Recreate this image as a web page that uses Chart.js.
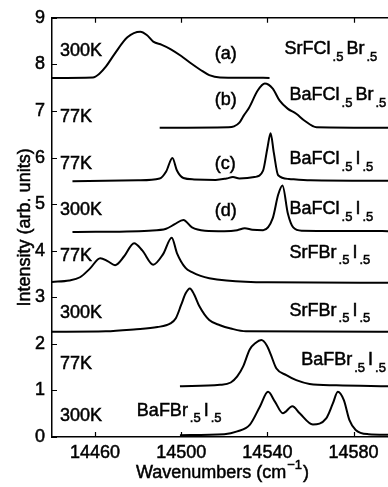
<!DOCTYPE html>
<html>
<head>
<meta charset="utf-8">
<script src="https://cdn.jsdelivr.net/npm/chart.js@4.4.1/dist/chart.umd.min.js"></script>
<style>
  html, body { margin: 0; padding: 0; background: #fff; }
  #wrap { width: 388px; height: 487px; position: relative; }
</style>
</head>
<body>
<div id="wrap"><canvas id="chart"></canvas></div>
<script>
// tick labels
const xTicks = [14460, 14500, 14540, 14580];
const yTicks = [0, 1, 2, 3, 4, 5, 6, 7, 8, 9];

// (a) SrFCl.5Br.5, 300K
const aWave = [14440, 14459, 14462, 14465, 14469, 14475, 14481, 14484, 14487, 14491, 14495, 14500, 14504, 14509, 14513, 14518, 14541];
const aInt  = [7.71, 7.72, 7.80, 7.95, 8.22, 8.58, 8.70, 8.63, 8.49, 8.42, 8.33, 8.18, 8.04, 7.88, 7.77, 7.72, 7.71];

// (b) BaFCl.5Br.5, 77K
const bWave = [14490, 14522, 14524.5, 14527, 14529, 14531.5, 14535.5, 14538.8, 14542.5, 14545.7, 14549.4, 14553.4, 14557.3, 14562.8, 14596];
const bInt  = [6.64, 6.65, 6.67, 6.75, 6.90, 7.07, 7.44, 7.59, 7.48, 7.22, 7.05, 6.94, 6.79, 6.65, 6.64];

// (c) BaFCl.5I.5, 77K
const cWave = [14449.5, 14480, 14490, 14493, 14495.9, 14498, 14501, 14506, 14516, 14521, 14524, 14527, 14534, 14538, 14540, 14541.5, 14543, 14545, 14550, 14560, 14596];
const cInt  = [5.49, 5.51, 5.55, 5.70, 5.99, 5.72, 5.56, 5.53, 5.52, 5.55, 5.58, 5.55, 5.58, 5.72, 6.20, 6.52, 6.10, 5.62, 5.54, 5.51, 5.50];

// (d) BaFCl.5I.5, 300K
const dWave = [14449.5, 14485, 14493, 14497, 14501, 14505, 14511, 14520, 14526, 14529.5, 14533, 14538, 14542.5, 14545, 14547, 14549.5, 14552, 14556, 14596];
const dInt  = [4.40, 4.43, 4.47, 4.57, 4.66, 4.50, 4.43, 4.42, 4.44, 4.48, 4.45, 4.44, 4.70, 5.20, 5.40, 4.80, 4.50, 4.43, 4.42];

// SrFBr.5I.5, 77K
const eWave = [14440, 14448, 14453, 14457.7, 14462.4, 14466, 14469.3, 14473.5, 14478.1, 14482, 14487, 14491.5, 14495.6, 14498, 14502, 14505, 14509, 14513, 14521, 14540, 14596];
const eInt  = [3.33, 3.36, 3.43, 3.62, 3.84, 3.77, 3.69, 3.88, 4.16, 4.00, 3.70, 3.92, 4.28, 3.95, 3.63, 3.54, 3.46, 3.41, 3.36, 3.32, 3.31];

// SrFBr.5I.5, 300K
const fWave = [14440, 14465, 14478, 14489, 14495, 14497.5, 14500, 14502, 14504, 14506, 14508.5, 14513, 14518, 14523, 14530, 14596];
const fInt  = [2.26, 2.27, 2.31, 2.36, 2.44, 2.55, 2.84, 3.08, 3.19, 3.06, 2.80, 2.51, 2.40, 2.33, 2.27, 2.26];

// BaFBr.5I.5, 77K
const gWave = [14499.4, 14518, 14523, 14526, 14528.7, 14531.8, 14534.5, 14537.2, 14539.8, 14541.5, 14544.2, 14548.8, 14553.4, 14559.6, 14572, 14596];
const gInt  = [1.09, 1.12, 1.17, 1.30, 1.51, 1.88, 2.02, 2.08, 1.96, 1.78, 1.47, 1.33, 1.22, 1.14, 1.11, 1.09];

// BaFBr.5I.5, 300K
const hWave = [14499.4, 14520, 14526, 14531.8, 14536.5, 14540.3, 14543.5, 14547.2, 14551.6, 14555, 14561.1, 14567.3, 14570.4, 14572.7, 14575.5, 14578.1, 14581, 14587, 14596];
const hInt  = [0.04, 0.06, 0.12, 0.26, 0.65, 0.97, 0.76, 0.51, 0.66, 0.51, 0.27, 0.40, 0.72, 0.97, 0.79, 0.36, 0.15, 0.06, 0.05];

const seriesList = [
    [aWave, aInt], [bWave, bInt], [cWave, cInt], [dWave, dInt],
    [eWave, eInt], [fWave, fInt], [gWave, gInt], [hWave, hInt]
];

// labels: temperature at the left, letter, compound name ({} = subscript)
const tempLabels = ['300K', '77K', '77K', '300K', '77K', '300K', '77K', '300K'];
const tempLevels = [8.28, 6.86, 5.87, 4.88, 3.88, 2.66, 1.56, 0.45];
const letterLabels = ['(a)', '(b)', '(c)', '(d)'];
const letterLevels = [8.22, 7.23, 5.86, 4.86];
const compoundNames = ['SrFCl{.5}Br{.5}', 'BaFCl{.5}Br{.5}', 'BaFCl{.5}I{.5}', 'BaFCl{.5}I{.5}', 'SrFBr{.5}I{.5}', 'SrFBr{.5}I{.5}', 'BaFBr{.5}I{.5}', 'BaFBr{.5}I{.5}'];
const compoundAt = [[14548.0, 8.33], [14550.3, 7.34], [14550.3, 5.96], [14550.3, 4.89], [14550.3, 3.96], [14550.3, 2.71], [14555.7, 1.65], [14479.4, 0.56]];

const FONT = '"Liberation Sans", Arial, Helvetica, sans-serif';

// fill + thin stroke, the scan looks a bit heavier than plain Arial
function txt(ctx, s, x, y) {
    ctx.fillText(s, x, y);
    ctx.strokeText(s, x, y);
}

// draws text with {..} parts as subscripts
function drawCompound(ctx, str, x, y) {
    const parts = str.split(/(\{[^}]*\})/).filter(p => p.length);
    let cx = x;
    parts.forEach(p => {
        if (p[0] === '{') {
            ctx.font = '13px ' + FONT;
            cx += 2;
            txt(ctx, p.slice(1, -1), cx, y + 8);
            cx += ctx.measureText(p.slice(1, -1)).width + 3;
        } else {
            ctx.font = '18px ' + FONT;
            txt(ctx, p, cx, y);
            cx += ctx.measureText(p).width;
        }
    });
}

const framePlugin = {
    id: 'frame',
    afterDraw(chart) {
        const ctx = chart.ctx;
        const xs = chart.scales.x, ys = chart.scales.y;
        const a = chart.chartArea;
        ctx.save();
        ctx.strokeStyle = '#000';
        ctx.lineWidth = 1.5;
        // top frame line
        ctx.beginPath();
        ctx.moveTo(a.left, a.top);
        ctx.lineTo(a.right, a.top);
        ctx.stroke();
        // inward ticks
        ctx.lineWidth = 1.2;
        ctx.beginPath();
        xTicks.forEach(v => {
            const px = Math.round(xs.getPixelForValue(v)) + 0.5;
            ctx.moveTo(px, a.bottom); ctx.lineTo(px, a.bottom - 5);
            ctx.moveTo(px, a.top); ctx.lineTo(px, a.top + 5);
        });
        yTicks.forEach(v => {
            const py = Math.round(ys.getPixelForValue(v)) + 0.5;
            ctx.moveTo(a.left, py); ctx.lineTo(a.left + 5, py);
        });
        ctx.stroke();

        // text labels
        ctx.fillStyle = '#000';
        ctx.lineWidth = 0.5;
        ctx.textBaseline = 'middle';
        ctx.textAlign = 'left';
        ctx.font = '18px ' + FONT;
        tempLabels.forEach((t, i) => {
            txt(ctx, t, a.left + 8, ys.getPixelForValue(tempLevels[i]));
        });
        letterLabels.forEach((t, i) => {
            txt(ctx, t, xs.getPixelForValue(14515.6), ys.getPixelForValue(letterLevels[i]));
        });
        compoundNames.forEach((t, i) => {
            drawCompound(ctx, t, xs.getPixelForValue(compoundAt[i][0]), ys.getPixelForValue(compoundAt[i][1]));
        });

        // axis titles
        ctx.font = '18px ' + FONT;
        ctx.textAlign = 'left';
        const main = 'Wavenumbers (cm';
        const w1 = ctx.measureText(main).width;
        ctx.font = '13px ' + FONT;
        const w2 = ctx.measureText('\u22121').width;
        ctx.font = '18px ' + FONT;
        const w3 = ctx.measureText(')').width;
        let tx = (a.left + a.right) / 2 - (w1 + w2 + w3 + 1) / 2 + 2;
        const ty = 473;
        txt(ctx, main, tx, ty);
        ctx.font = '13px ' + FONT;
        txt(ctx, '\u22121', tx + w1 + 1, ty - 8);
        ctx.font = '18px ' + FONT;
        txt(ctx, ')', tx + w1 + w2 + 2, ty);

        ctx.translate(25, (a.top + a.bottom) / 2);
        ctx.rotate(-Math.PI / 2);
        ctx.textAlign = 'center';
        txt(ctx, 'Intensity (arb. units)', 0, 0);
        ctx.restore();
    }
};

const datasets = seriesList.map(([w, v]) => ({
    data: w.map((x, i) => ({ x: x, y: v[i] })),
    showLine: true,
    borderColor: '#000',
    borderWidth: 2,
    pointRadius: 0,
    cubicInterpolationMode: 'monotone',
    fill: false
}));

new Chart(document.getElementById('chart'), {
    type: 'scatter',
    data: { datasets: datasets },
    options: {
        responsive: true,
        maintainAspectRatio: false,
        animation: false,
        events: [],
        layout: { padding: { top: 17, right: 0, left: 0, bottom: 0 } },
        plugins: { legend: { display: false }, tooltip: { enabled: false } },
        scales: {
            x: {
                type: 'linear',
                min: 14440,
                max: 14596,
                afterBuildTicks: s => { s.ticks = xTicks.map(v => ({ value: v })); },
                afterFit: s => { s.height = 50; },
                grid: { drawOnChartArea: false, drawTicks: false },
                border: { color: '#000', width: 1.5 },
                ticks: {
                    color: '#000',
                    font: { family: FONT, size: 18 },
                    textStrokeColor: '#000',
                    textStrokeWidth: 0.5,
                    padding: 5,
                    maxRotation: 0,
                    autoSkip: false,
                    callback: v => String(v)
                }
            },
            y: {
                min: 0,
                max: 9,
                afterBuildTicks: s => { s.ticks = yTicks.map(v => ({ value: v })); },
                afterFit: s => { s.width = 52; },
                grid: { drawOnChartArea: false, drawTicks: false },
                border: { color: '#000', width: 1.5 },
                ticks: {
                    color: '#000',
                    font: { family: FONT, size: 18 },
                    textStrokeColor: '#000',
                    textStrokeWidth: 0.5,
                    padding: 7,
                    callback: v => String(v)
                }
            }
        }
    },
    plugins: [framePlugin]
});
</script>
</body>
</html>
